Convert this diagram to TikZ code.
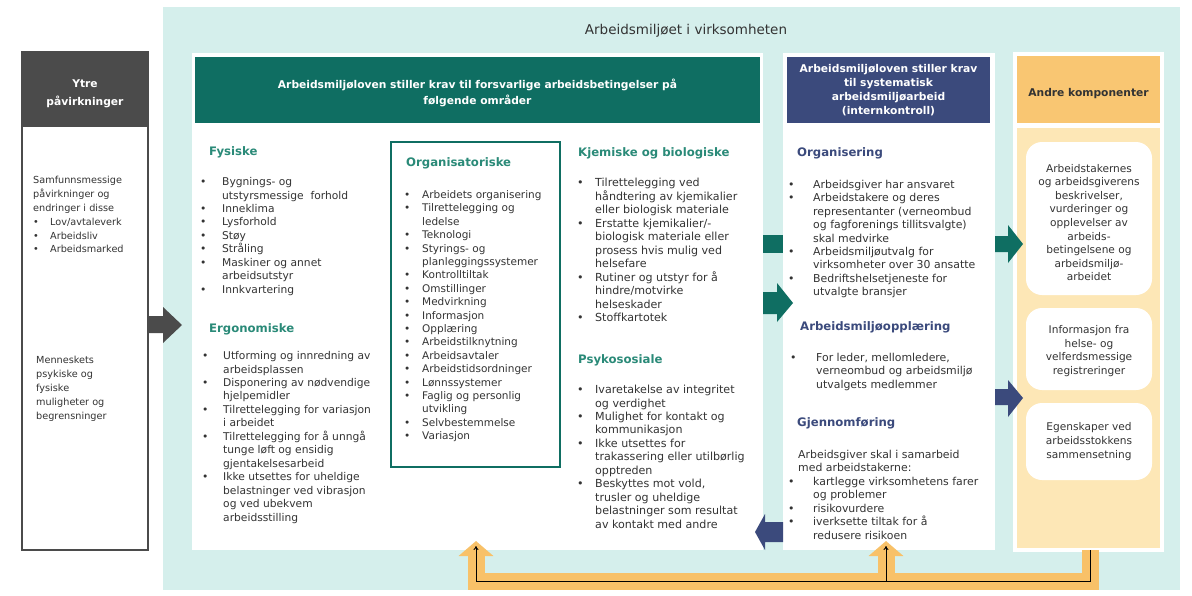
\documentclass[tikz,border=0pt]{standalone}
\usepackage{fontspec}
\setmainfont{DejaVu Sans}
\usetikzlibrary{arrows.meta}
\definecolor{bgteal}{HTML}{D5EFEC}
\definecolor{dgreen}{HTML}{0F6E62}
\definecolor{hteal}{HTML}{2A8A78}
\definecolor{navy}{HTML}{3B4A7C}
\definecolor{ohead}{HTML}{F9C672}
\definecolor{obody}{HTML}{FDE7B6}
\definecolor{oline}{HTML}{F8C168}
\definecolor{gdark}{HTML}{4B4B4B}
\definecolor{txt}{HTML}{333333}
\newlength\bw
\newcommand\Bul{\makebox[\bw][l]{\textbullet}}
\newcommand\Cnt{\hspace*{\bw}}
\newcommand\blst[2]{\setlength\bw{#1}\begin{tabular}{@{}l@{}}#2\end{tabular}}
\tikzset{
  rect/.style={anchor=north west, inner sep=0pt, outer sep=0pt, draw=none},
  body/.style={inner sep=0pt, anchor=north west, text=txt, font=\fontsize{10.5}{13.4}\selectfont},
  bodyL/.style={body, font=\fontsize{10.7}{13.45}\selectfont},
  bodyK/.style={body, font=\fontsize{11.1}{13.45}\selectfont},
  bodyM/.style={body, font=\fontsize{10.9}{13.4}\selectfont},
  bodyG/.style={body, font=\fontsize{9.7}{13.8}\selectfont},
  ctext/.style={inner sep=0pt, text=txt, align=center, font=\fontsize{10.6}{13.6}\selectfont},
  hd/.style={inner sep=0pt, anchor=west, text=hteal, font=\fontsize{11.7}{14}\selectfont\bfseries},
  hdn/.style={hd, text=navy},
  hbold/.style={inner sep=0pt, align=center, text=white, font=\fontsize{10.7}{16}\selectfont\bfseries},
  fb/.style={draw=oline, line width=17pt, line join=miter},
  fbtip/.style={fb, -{Triangle[width=34pt,length=15pt]}},
  thinar/.style={draw=black, line width=0.9pt, -{To[length=4pt,width=5pt]}},
}
\begin{document}
\begin{tikzpicture}[x=1pt,y=-1pt]
\useasboundingbox (0,0) rectangle (1192,595);
% background
\node[rect, fill=bgteal, minimum width=1017pt, minimum height=583pt] (bg) at (163,7) {};
\node[inner sep=0pt, text=txt, font=\fontsize{13.5}{16}\selectfont] (title) at (686,31) {Arbeidsmiljøet i virksomheten};

% external influences
\node[rect, fill=white, draw=gdark, line width=2.5pt, minimum width=126pt, minimum height=498pt] (ytre) at (22,52) {};
\node[rect, fill=gdark, minimum width=126pt, minimum height=75pt] (ytrehd) at (22,52) {};
\node[hbold, font=\fontsize{10.7}{18}\selectfont\bfseries] (ytret) at ([yshift=-4pt]ytrehd.center) {Ytre\\påvirkninger};
\node[bodyG] (samf) at (33,174) {\blst{17pt}{Samfunnsmessige\\påvirkninger og\\endringer i disse\\\Bul Lov/avtaleverk\\\Bul Arbeidsliv\\\Bul Arbeidsmarked}};
\node[bodyG] (menn) at (36,354) {\blst{0pt}{Menneskets\\psykiske og\\fysiske\\muligheter og\\begrensninger}};

% left panel
\node[rect, fill=white, minimum width=571pt, minimum height=497pt] (lp) at (192,53) {};
\node[rect, fill=dgreen, minimum width=565pt, minimum height=66pt] (ghd) at (195,57) {};
\node[hbold] (ghdt) at ([yshift=-3pt]ghd.center) {Arbeidsmiljøloven stiller krav til forsvarlige arbeidsbetingelser på\\følgende områder};

\node[hd] (fysh) at (209,152) {Fysiske};
\node[bodyL] (fys) at (200,176) {\blst{22pt}{\Bul Bygnings- og\\\Cnt utstyrsmessige\ \ forhold\\\Bul Inneklima\\\Bul Lysforhold\\\Bul Støy\\\Bul Stråling\\\Bul Maskiner og annet\\\Cnt arbeidsutstyr\\\Bul Innkvartering}};

\node[hd] (ergh) at (209,329) {Ergonomiske};
\node[bodyL] (erg) at (202,350) {\blst{21pt}{\Bul Utforming og innredning av\\\Cnt arbeidsplassen\\\Bul Disponering av nødvendige\\\Cnt hjelpemidler\\\Bul Tilrettelegging for variasjon\\\Cnt i arbeidet\\\Bul Tilrettelegging for å unngå\\\Cnt tunge løft og ensidig\\\Cnt gjentakelsesarbeid\\\Bul Ikke utsettes for uheldige\\\Cnt belastninger ved vibrasjon\\\Cnt og ved ubekvem\\\Cnt arbeidsstilling}};

\node[rect, draw=dgreen, line width=2.5pt, minimum width=169pt, minimum height=325pt] (orgbox) at (391,142) {};
\node[hd] (orgh) at (406,163) {Organisatoriske};
\node[body] (org) at (404,189) {\blst{18pt}{\Bul Arbeidets organisering\\\Bul Tilrettelegging og\\\Cnt ledelse\\\Bul Teknologi\\\Bul Styrings- og\\\Cnt planleggingssystemer\\\Bul Kontrolltiltak\\\Bul Omstillinger\\\Bul Medvirkning\\\Bul Informasjon\\\Bul Opplæring\\\Bul Arbeidstilknytning\\\Bul Arbeidsavtaler\\\Bul Arbeidstidsordninger\\\Bul Lønnssystemer\\\Bul Faglig og personlig\\\Cnt utvikling\\\Bul Selvbestemmelse\\\Bul Variasjon}};

\node[hd] (kjeh) at (578,153) {Kjemiske og biologiske};
\node[bodyK] (kje) at (577,177) {\blst{18pt}{\Bul Tilrettelegging ved\\\Cnt håndtering av kjemikalier\\\Cnt eller biologisk materiale\\\Bul Erstatte kjemikalier/-\\\Cnt biologisk materiale eller\\\Cnt prosess hvis mulig ved\\\Cnt helsefare\\\Bul Rutiner og utstyr for å\\\Cnt hindre/motvirke\\\Cnt helseskader\\\Bul Stoffkartotek}};

\node[hd] (psyh) at (578,360) {Psykososiale};
\node[bodyK] (psy) at (577,384) {\blst{18pt}{\Bul Ivaretakelse av integritet\\\Cnt og verdighet\\\Bul Mulighet for kontakt og\\\Cnt kommunikasjon\\\Bul Ikke utsettes for\\\Cnt trakassering eller utilbørlig\\\Cnt opptreden\\\Bul Beskyttes mot vold,\\\Cnt trusler og uheldige\\\Cnt belastninger som resultat\\\Cnt av kontakt med andre}};

% middle panel
\node[rect, fill=white, minimum width=212pt, minimum height=497pt] (mp) at (783,53) {};
\node[rect, fill=navy, minimum width=203pt, minimum height=66pt] (nhd) at (787,57) {};
\node[hbold, font=\fontsize{10.7}{14}\selectfont\bfseries] (nhdt) at ([yshift=-0.5pt]nhd.center) {Arbeidsmiljøloven stiller krav\\til systematisk\\arbeidsmiljøarbeid\\(internkontroll)};

\node[hdn] (orgnh) at (797,153) {Organisering};
\node[bodyM] (orgn) at (788,179) {\blst{25pt}{\Bul Arbeidsgiver har ansvaret\\\Bul Arbeidstakere og deres\\\Cnt representanter (verneombud\\\Cnt og fagforenings tillitsvalgte)\\\Cnt skal medvirke\\\Bul Arbeidsmiljøutvalg for\\\Cnt virksomheter over 30 ansatte\\\Bul Bedriftshelsetjeneste for\\\Cnt utvalgte bransjer}};

\node[hdn] (opph) at (800,327) {Arbeidsmiljøopplæring};
\node[bodyM] (opp) at (790,352) {\blst{26pt}{\Bul For leder, mellomledere,\\\Cnt verneombud og arbeidsmiljø\\\Cnt utvalgets medlemmer}};

\node[hdn] (gjeh) at (797,423) {Gjennomføring};
\node[bodyM] (gje) at (788,449) {\blst{25pt}{\hspace*{10pt}Arbeidsgiver skal i samarbeid\\\hspace*{10pt}med arbeidstakerne:\\\Bul kartlegge virksomhetens farer\\\Cnt og problemer\\\Bul risikovurdere\\\Bul iverksette tiltak for å\\\Cnt redusere risikoen}};

% right panel
\node[rect, fill=white, minimum width=151pt, minimum height=500pt] (rp) at (1013,52) {};
\node[rect, fill=ohead, minimum width=143pt, minimum height=67pt] (ohd) at (1017,56) {};
\node[hbold, text=txt] (ohdt) at ([yshift=-4pt]ohd.center) {Andre komponenter};
\node[rect, fill=obody, minimum width=143pt, minimum height=420pt] (obd) at (1017,128) {};
\node[rect, fill=white, rounded corners=16pt, minimum width=126pt, minimum height=153pt] (box1) at (1026,142) {};
\node[rect, fill=white, rounded corners=16pt, minimum width=126pt, minimum height=82pt] (box2) at (1026,308) {};
\node[rect, fill=white, rounded corners=16pt, minimum width=126pt, minimum height=77pt] (box3) at (1026,403) {};
\node[ctext] (t1) at ([yshift=-4pt]box1.center) {Arbeidstakernes\\og arbeidsgiverens\\beskrivelser,\\vurderinger og\\opplevelser av\\arbeids-\\betingelsene og\\arbeidsmiljø-\\arbeidet};
\node[ctext] (t2) at ([yshift=-2pt]box2.center) {Informasjon fra\\helse- og\\velferdsmessige\\registreringer};
\node[ctext] (t3) at (box3.center) {Egenskaper ved\\arbeidsstokkens\\sammensetning};

% block arrows
\fill[gdark] (147,316) -- (163,316) -- (163,307) -- (182,325) -- (163,343) -- (163,333) -- (147,333) -- cycle;
\fill[dgreen] (763,235) rectangle (783,253);
\fill[dgreen] (763,292) -- (777,292) -- (777,283) -- (793,303) -- (777,322) -- (777,314) -- (763,314) -- cycle;
\fill[dgreen] (995,236) -- (1008,236) -- (1008,225) -- (1023,244) -- (1008,263) -- (1008,252) -- (995,252) -- cycle;
\fill[navy] (995,389) -- (1008,389) -- (1008,380) -- (1023,398) -- (1008,417) -- (1008,405) -- (995,405) -- cycle;
\fill[navy] (783,522) -- (765,522) -- (765,514) -- (755,532) -- (765,550) -- (765,542) -- (783,542) -- cycle;

% feedback loop
\coordinate (fR) at (1090,550);
\coordinate (fRc) at (1090,581);
\coordinate (fLc) at (476,581);
\coordinate (fMc) at (886,581);
\coordinate (fLt) at (476,541);
\coordinate (fMt) at (886,541);
\draw[fbtip] (fR) -- (fRc) -- (fLc) -- (fLt);
\draw[fbtip] (fMc) -- (fMt);
\draw[thinar] (fR) -- (fRc) -- (fLc) -- (476,546);
\draw[thinar] (fMc) -- (886,546);
\end{tikzpicture}
\end{document}
